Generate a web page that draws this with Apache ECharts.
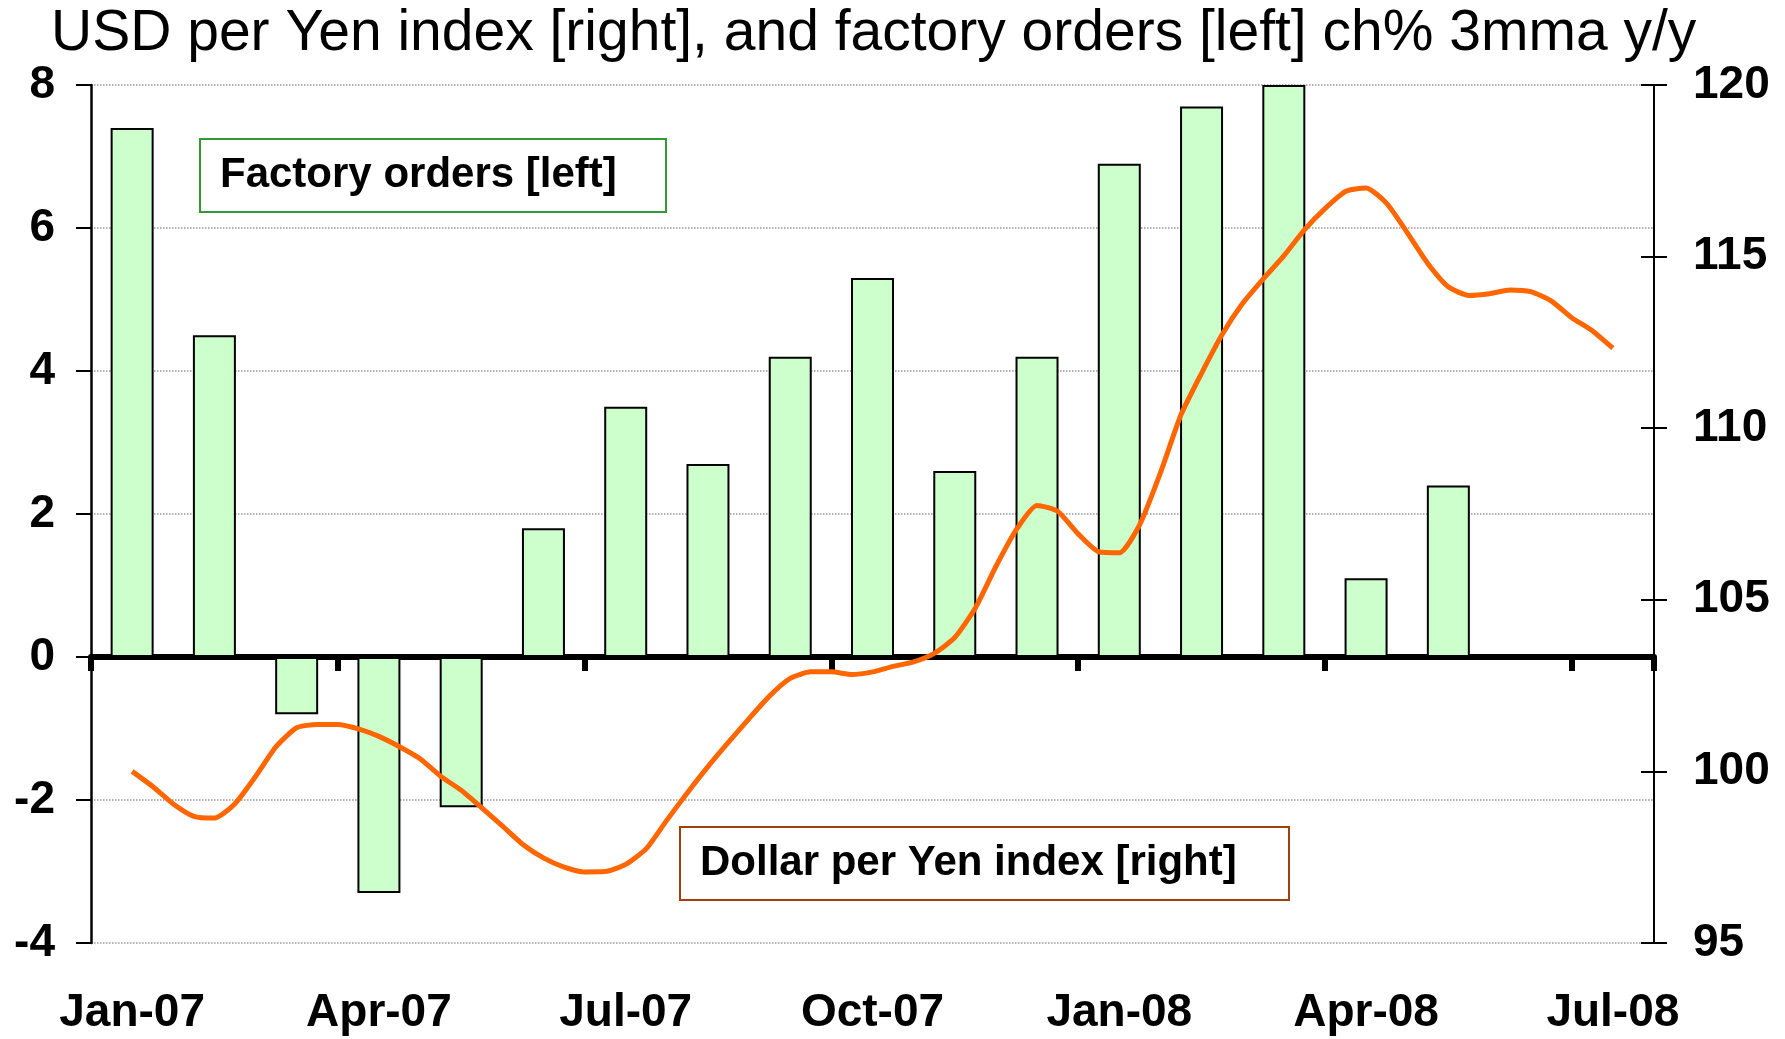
<!DOCTYPE html>
<html>
<head>
<meta charset="utf-8">
<script src="https://cdn.jsdelivr.net/npm/echarts@6/dist/echarts.min.js"></script>
<style>
  html, body { margin: 0; padding: 0; background: #fff; }
  #chart { width: 1785px; height: 1039px; }
</style>
</head>
<body>
<div id="chart"></div>
<script>
// months on the category axis
const months = [
  "Jan-07", "Feb-07", "Mar-07", "Apr-07", "May-07", "Jun-07", "Jul-07", "Aug-07", "Sep-07",
  "Oct-07", "Nov-07", "Dec-07", "Jan-08", "Feb-08", "Mar-08", "Apr-08", "May-08", "Jun-08", "Jul-08"
];
// factory orders ch% 3mma y/y (left axis)
const factoryOrders = [7.4, 4.5, -0.8, -3.3, -2.1, 1.8, 3.5, 2.7, 4.2, 5.3, 2.6, 4.2, 6.9, 7.7, 8.0, 1.1, 2.4, null, null];
// USD per Yen index (right axis), read every quarter month from Jan-07
const usdYenStep = 0.25;
const usdYen = [
  100.0, 99.56, 99.05, 98.69, 98.64, 99.06, 99.85, 100.72,
  101.27, 101.37, 101.37, 101.24, 101.02, 100.72, 100.37, 99.86,
  99.45, 98.94, 98.41, 97.87, 97.48, 97.21, 97.07, 97.08,
  97.29, 97.75, 98.58, 99.38, 100.14, 100.85, 101.54, 102.2,
  102.71, 102.9, 102.9, 102.82, 102.9, 103.06, 103.19, 103.44,
  103.9, 104.76, 105.97, 107.05, 107.75, 107.58, 106.92, 106.4,
  106.37, 107.2, 108.7, 110.39, 111.6, 112.73, 113.64, 114.35,
  115.02, 115.78, 116.4, 116.9, 117.0, 116.55, 115.7, 114.8,
  114.12, 113.87, 113.92, 114.03, 113.98, 113.71, 113.22, 112.84,
  112.33
];
const leftTicks = { min: -4, max: 8, interval: 2 };
const rightTicks = { min: 95, max: 120, interval: 5 };

const font = "'Liberation Sans', Arial, Helvetica, sans-serif";
const lineData = usdYen.map((v, i) => [i * usdYenStep, v]);

const chart = echarts.init(document.getElementById('chart'));

const labelStyle = {
  color: '#000',
  fontFamily: font,
  fontWeight: 'bold',
  fontSize: 46
};

chart.setOption({
  animation: false,
  backgroundColor: '#fff',
  title: [
    {
      text: 'USD per Yen index [right], and factory orders [left] ch% 3mma y/y',
      left: 51,
      top: 6,
      padding: 0,
      textStyle: { color: '#000', fontFamily: font, fontWeight: 'normal', fontSize: 57, lineHeight: 57 }
    },
    {
      text: 'Factory orders [left]',
      left: 200,
      top: 139,
      borderColor: '#339933',
      borderWidth: 2,
      backgroundColor: '#fff',
      padding: [15, 50, 15, 20],
      textStyle: { color: '#000', fontFamily: font, fontWeight: 'bold', fontSize: 42, lineHeight: 43 }
    },
    {
      text: 'Dollar per Yen index [right]',
      left: 680,
      top: 827,
      borderColor: '#a0400d',
      borderWidth: 2,
      backgroundColor: '#fff',
      padding: [15, 52, 15, 20],
      textStyle: { color: '#000', fontFamily: font, fontWeight: 'bold', fontSize: 42, lineHeight: 43 }
    }
  ],
  grid: {
    left: 91,
    right: 131,
    top: 85,
    bottom: 96
  },
  xAxis: [
    {
      // zero line with quarter ticks
      type: 'category',
      data: months,
      position: 'bottom',
      boundaryGap: true,
      axisLine: { onZero: true, onZeroAxisIndex: 0, lineStyle: { color: '#000', width: 6 } },
      axisTick: { show: true, interval: 2, length: 14, lineStyle: { color: '#000', width: 6 } },
      axisLabel: { show: false },
      splitLine: { show: false }
    },
    {
      // month labels at the bottom
      type: 'category',
      data: months,
      position: 'bottom',
      boundaryGap: true,
      axisLine: { show: false, onZero: false },
      axisTick: { show: false },
      axisLabel: Object.assign({ interval: 2, margin: 47 }, labelStyle),
      splitLine: { show: false }
    },
    {
      // hidden month scale for the index line
      type: 'value',
      min: -0.5,
      max: months.length - 0.5,
      show: false
    }
  ],
  yAxis: [
    {
      type: 'value',
      position: 'left',
      min: leftTicks.min,
      max: leftTicks.max,
      interval: leftTicks.interval,
      axisLine: { show: true, onZero: false, lineStyle: { color: '#000', width: 2.5 } },
      axisTick: { show: true, length: 15, lineStyle: { color: '#000', width: 2 } },
      axisLabel: Object.assign({ margin: 36 }, labelStyle),
      splitLine: { show: true, lineStyle: { color: '#999', type: 'dotted', width: 1.5 } }
    },
    {
      type: 'value',
      position: 'right',
      min: rightTicks.min,
      max: rightTicks.max,
      interval: rightTicks.interval,
      axisLine: { show: true, onZero: false, lineStyle: { color: '#000', width: 2 } },
      axisTick: { show: true, length: 13, lineStyle: { color: '#000', width: 2 } },
      axisLabel: Object.assign({ margin: 39 }, labelStyle),
      splitLine: { show: false }
    },
    {
      // inner half of the crossing ticks on the right axis
      type: 'value',
      position: 'right',
      min: rightTicks.min,
      max: rightTicks.max,
      interval: rightTicks.interval,
      axisLine: { show: false, onZero: false },
      axisTick: { show: true, inside: true, length: 13, lineStyle: { color: '#000', width: 2 } },
      axisLabel: { show: false },
      splitLine: { show: false }
    }
  ],
  series: [
    {
      name: 'Factory orders [left]',
      type: 'bar',
      xAxisIndex: 0,
      yAxisIndex: 0,
      barWidth: 43,
      data: factoryOrders,
      itemStyle: { color: '#ccffcc', borderColor: '#000', borderWidth: 2 },
      z: 2
    },
    {
      name: 'Dollar per Yen index [right]',
      type: 'line',
      xAxisIndex: 2,
      yAxisIndex: 1,
      data: lineData,
      showSymbol: false,
      smooth: 0.2,
      lineStyle: { color: '#ff6600', width: 5 },
      z: 5
    }
  ]
});
</script>
</body>
</html>
